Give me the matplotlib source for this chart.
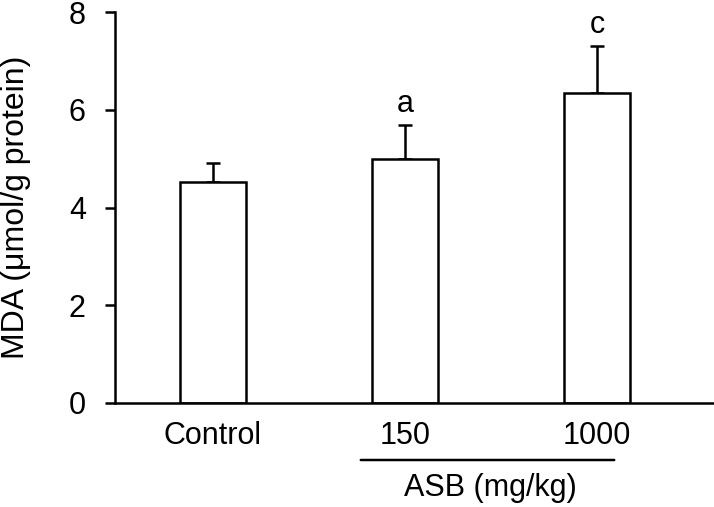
import numpy as np
import matplotlib.pyplot as plt

plt.rcParams['font.family'] = ['Liberation Sans', 'DejaVu Sans']

# ----------- data ---------
groups  = ['Control', '150', '1000']
mda     = [4.52, 4.99, 6.34]
mda_err = [0.39, 0.70, 0.96]
marks   = ['', 'a', 'c']

fig = plt.figure(figsize=(7.14, 5.07), dpi=100)
ax = fig.add_axes([115/714, 1 - 403/507, 1 - 115/714, 391/507])

x = np.arange(len(groups))
ax.bar(x, mda, width=0.34, color='white', edgecolor='black', linewidth=1.8, zorder=2)
ax.errorbar(x, mda, yerr=[np.zeros(len(mda)), mda_err], fmt='none',
            ecolor='black', elinewidth=1.8, capsize=5, capthick=1.8, zorder=1)
for xi, m, e, lab in zip(x, mda, mda_err, marks):
    ax.text(xi, m + e + 0.12, lab, ha='center', va='bottom', fontsize=22)

ax.set_xlim(-0.51, 2.61)
ax.set_ylim(0, 8)
ax.set_yticks([0, 2, 4, 6, 8])
ax.set_xticks(x)
ax.set_xticklabels(groups)
ax.tick_params(axis='x', length=0, pad=13, labelsize=22)
ax.tick_params(axis='y', length=7, width=1.8, labelsize=22, pad=14)
for s in ['top', 'right']:
    ax.spines[s].set_visible(False)
for s in ['left', 'bottom']:
    ax.spines[s].set_linewidth(1.8)
ax.set_ylabel('MDA (μmol/g protein)', fontsize=23)
ax.yaxis.set_label_coords(-84/599, 0.5)

# group label under the dose bars
ax.annotate('', xy=(358/714, 1 - 460/507), xytext=(617/714, 1 - 460/507),
            xycoords='figure fraction',
            arrowprops=dict(arrowstyle='-', lw=1.8, color='black'))
fig.text(490/714, 1 - 488/507, 'ASB (mg/kg)', ha='center', va='center', fontsize=22)

plt.savefig('out.png', dpi=100)
